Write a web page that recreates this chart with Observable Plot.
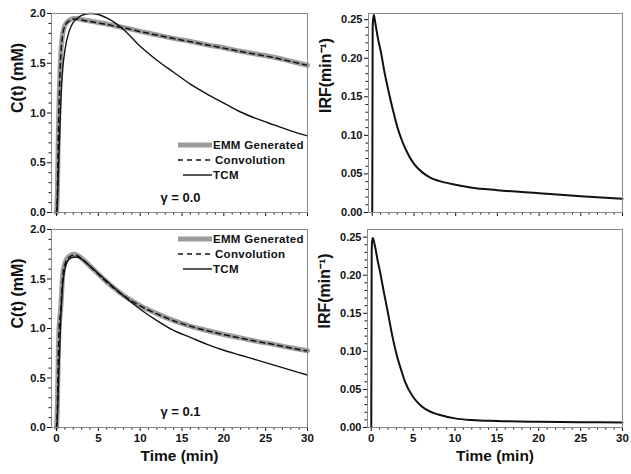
<!DOCTYPE html>
<html><head><meta charset="utf-8">
<script src="https://cdn.jsdelivr.net/npm/d3@7"></script>
<script src="https://cdn.jsdelivr.net/npm/@observablehq/plot@0.6"></script>
<style>
body{margin:0;background:#fff;}
#wrap{position:relative;width:631px;height:474px;overflow:hidden;background:#fff;font-family:"Liberation Sans",Arial,sans-serif;}
#wrap > div{position:absolute;}
#wrap svg{display:block;}
</style></head><body><div id="wrap"></div>
<script>
// ---------- data ----------
const seriesNames = ["EMM Generated", "Convolution", "TCM"];
const gammaLabels = ["\u03b3 = 0.0", "\u03b3 = 0.1"];
const yLabelC = "C(t) (mM)";
const yLabelIRF = "IRF(min\u207b\u00b9)";
const xLabel = "Time (min)";

const timeC = [0, 0.1, 0.2, 0.3, 0.5, 0.75, 1, 1.5, 2, 2.5, 3, 4, 5, 6, 7, 8, 10, 12, 14, 16, 18, 20, 22, 24, 26, 28, 30];
// gamma = 0.0
const emmTop  = [0, 0.2, 0.72, 1.1, 1.58, 1.8, 1.88, 1.93, 1.95, 1.95, 1.94, 1.925, 1.91, 1.895, 1.875, 1.86, 1.82, 1.785, 1.75, 1.72, 1.685, 1.655, 1.62, 1.59, 1.56, 1.52, 1.48];
const convTop = [0, 0.18, 0.7, 1.08, 1.56, 1.79, 1.875, 1.925, 1.945, 1.945, 1.935, 1.92, 1.905, 1.89, 1.872, 1.857, 1.818, 1.783, 1.748, 1.717, 1.683, 1.652, 1.618, 1.587, 1.556, 1.518, 1.478];
const tcmTop  = [0, 0.1, 0.35, 0.6, 1.08, 1.45, 1.63, 1.82, 1.91, 1.95, 1.98, 2.0, 1.99, 1.955, 1.905, 1.84, 1.67, 1.53, 1.41, 1.29, 1.19, 1.1, 1.01, 0.94, 0.88, 0.82, 0.77];
// gamma = 0.1
const emmBot  = [0, 0.2, 0.7, 1.0, 1.2, 1.55, 1.66, 1.73, 1.75, 1.74, 1.71, 1.63, 1.55, 1.47, 1.4, 1.335, 1.23, 1.15, 1.08, 1.025, 0.98, 0.94, 0.905, 0.87, 0.84, 0.805, 0.775];
const convBot = [0, 0.18, 0.68, 0.98, 1.18, 1.53, 1.65, 1.72, 1.74, 1.735, 1.705, 1.628, 1.548, 1.468, 1.398, 1.333, 1.228, 1.148, 1.078, 1.023, 0.978, 0.938, 0.903, 0.868, 0.838, 0.803, 0.772];
const tcmBot  = [0, 0.1, 0.35, 0.6, 1.08, 1.45, 1.6, 1.7, 1.72, 1.72, 1.7, 1.63, 1.555, 1.48, 1.405, 1.33, 1.195, 1.08, 0.98, 0.91, 0.84, 0.78, 0.73, 0.68, 0.63, 0.58, 0.53];

const timeIRF = [0, 0.05, 0.1, 0.2, 0.3, 0.5, 0.75, 1, 1.5, 2, 2.5, 3, 3.5, 4, 5, 6, 7, 8, 10, 12, 15, 20, 25, 30];
const irfTop = [0, 0.24, 0.25, 0.256, 0.25, 0.237, 0.222, 0.21, 0.18, 0.155, 0.132, 0.111, 0.095, 0.082, 0.063, 0.052, 0.045, 0.041, 0.036, 0.032, 0.029, 0.025, 0.021, 0.0177];
const irfBot = [0, 0.23, 0.245, 0.249, 0.245, 0.235, 0.22, 0.207, 0.178, 0.15, 0.121, 0.097, 0.078, 0.061, 0.04, 0.028, 0.021, 0.017, 0.012, 0.0098, 0.0085, 0.0075, 0.007, 0.0066];

const xTicks = [0, 5, 10, 15, 20, 25, 30];
const xMinor = d3.range(0, 31, 1).filter(d => d % 5 !== 0);
const cTicks = [0, 0.5, 1.0, 1.5, 2.0];
const cMinor = d3.range(0, 21, 1).map(d => d / 10).filter((d, i) => i % 5 !== 0);
const irfTicks = [0, 0.05, 0.10, 0.15, 0.20, 0.25];
const irfMinor = d3.range(0, 26, 1).map(d => d / 100).filter((d, i) => i % 5 !== 0);

// ---------- styles ----------
const FONT = '"Liberation Sans", Arial, sans-serif';
const styleEMM = {stroke: "#9c9c9c", strokeWidth: 5};
const styleConv = {stroke: "#111", strokeWidth: 1.5, strokeDasharray: "5,4"};
const styleTCM = {stroke: "#111", strokeWidth: 1.4};
const wrap = document.getElementById("wrap");

function axes(xLabels, yTicks, yMinor, yFmt) {
  return [
    Plot.axisY({ticks: yTicks, tickSize: 4, tickPadding: 2, tickFormat: yFmt, label: null, fontSize: 11, fontWeight: "bold"}),
    Plot.axisY({ticks: yMinor, tickSize: 2.5, tickFormat: () => "", label: null}),
    Plot.axisX({ticks: xTicks, tickSize: 4, tickPadding: 2, tickFormat: xLabels ? d3.format("d") : () => "", label: null, fontSize: 11.5, fontWeight: "bold"}),
    Plot.axisX({ticks: xMinor, tickSize: 2.5, tickFormat: () => "", label: null}),
    Plot.frame({stroke: "#8a8a8a", strokeWidth: 1})
  ];
}

function place(el, left, top) {
  const d = document.createElement("div");
  d.style.left = left + "px";
  d.style.top = top + "px";
  d.appendChild(el);
  wrap.appendChild(d);
}

function cPanel(emm, conv, tcm, gamma, bottom) {
  return Plot.plot({
    width: 312, height: bottom ? 258 : 220,
    marginLeft: 51, marginRight: 5, marginTop: 13, marginBottom: bottom ? 47 : 8,
    style: {fontFamily: FONT, fontWeight: "bold", fontSize: "11px", color: "#111", background: "white", overflow: "visible"},
    x: {domain: [-0.6, 30]},
    y: {domain: [0, 2]},
    marks: [
      Plot.line(emm, {x: timeC, y: emm, curve: "monotone-x", ...styleEMM}),
      Plot.line(conv, {x: timeC, y: conv, curve: "monotone-x", ...styleConv}),
      Plot.line(tcm, {x: timeC, y: tcm, curve: "monotone-x", ...styleTCM}),
      ...axes(bottom, cTicks, cMinor, d3.format(".1f")),
      Plot.text([gamma], {frameAnchor: "bottom", dx: 1, dy: bottom ? -12 : -11, fontSize: 13, fontWeight: "bold", fill: "#111"}),
      Plot.text([yLabelC], {frameAnchor: "left", rotate: -90, dx: -34, fontSize: 16, fontWeight: "bold", fill: "#111"}),
      ...(bottom ? [Plot.text([xLabel], {frameAnchor: "bottom", dy: 33, fontSize: 15.5, fontWeight: "bold", fill: "#111"})] : [])
    ]
  });
}

function irfPanel(irf, yMax, bottom) {
  return Plot.plot({
    width: 315, height: bottom ? 258 : 220,
    marginLeft: bottom ? 51 : 52, marginRight: 9, marginTop: 13, marginBottom: bottom ? 47 : 8,
    style: {fontFamily: FONT, fontWeight: "bold", fontSize: "11px", color: "#111", background: "white", overflow: "visible"},
    x: {domain: [-0.45, 30]},
    y: {domain: [0, yMax]},
    marks: [
      Plot.line(irf, {x: timeIRF, y: irf, curve: "monotone-x", stroke: "#111", strokeWidth: 2}),
      ...axes(bottom, irfTicks, irfMinor, d3.format(".2f")),
      Plot.text([yLabelIRF], {frameAnchor: "left", rotate: -90, dx: -43, fontSize: 16, fontWeight: "bold", fill: "#111"}),
      ...(bottom ? [Plot.text([xLabel], {frameAnchor: "bottom", dy: 33, fontSize: 15.5, fontWeight: "bold", fill: "#111"})] : [])
    ]
  });
}

place(cPanel(emmTop, convTop, tcmTop, gammaLabels[0], false), 0, 0);
place(irfPanel(irfTop, 0.258, false), 316, 0);
place(cPanel(emmBot, convBot, tcmBot, gammaLabels[1], true), 0, 216);
place(irfPanel(irfBot, 0.26, true), 316, 216);

// ---------- legends (overlay) ----------
const legendStyles = [styleEMM, styleConv, styleTCM];
const ov = d3.create("svg").attr("width", 631).attr("height", 474)
  .style("position", "absolute").style("left", 0).style("top", 0).style("pointer-events", "none");
function legend(y0) {
  const g = ov.append("g").attr("transform", `translate(0,${y0})`);
  seriesNames.forEach((name, i) => {
    const s = legendStyles[i];
    const y = i * 15;
    g.append("line").attr("x1", i === 2 ? 183 : 178).attr("x2", 212).attr("y1", y).attr("y2", y)
      .attr("stroke", s.stroke).attr("stroke-width", s.strokeWidth)
      .attr("stroke-dasharray", s.strokeDasharray || null);
    g.append("text").attr("x", i === 1 ? 215 : 213).attr("y", y).attr("dy", "0.35em")
      .attr("font-family", FONT).attr("font-weight", "bold").attr("font-size", 11.5)
      .attr("letter-spacing", "0.3").attr("fill", "#111").text(name);
  });
}
legend(145);
legend(239);
wrap.appendChild(ov.node());
</script>
</body></html>
